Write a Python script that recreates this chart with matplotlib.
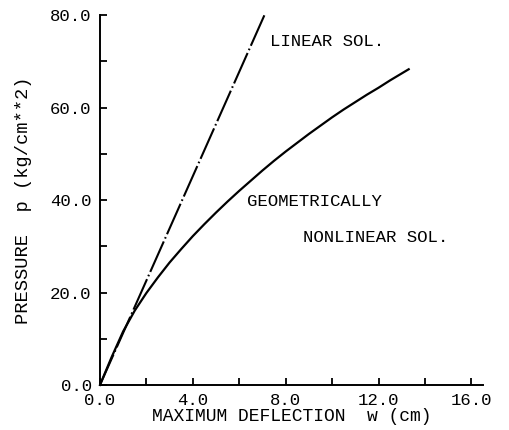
import matplotlib
matplotlib.use("Agg")
import matplotlib.pyplot as plt
from matplotlib.ticker import MultipleLocator, FormatStrFormatter

# linear solution (straight line from origin)
lin_w = [0.0, 7.12]
lin_p = [0.0, 80.4]

# geometrically nonlinear solution
nl_w = [0.0, 0.5, 1.0, 1.5, 2.0, 2.5, 3.0, 3.5, 4.0, 4.5, 5.0, 5.5, 6.0, 6.5,
        7.0, 7.5, 8.0, 8.5, 9.0, 9.5, 10.0, 10.5, 11.0, 11.5, 12.0, 12.5, 13.0, 13.3]
nl_p = [0.0, 6.0, 11.6, 16.1, 19.9, 23.3, 26.5, 29.4, 32.2, 34.8, 37.3, 39.7, 42.0, 44.2,
        46.4, 48.5, 50.5, 52.4, 54.3, 56.1, 57.9, 59.6, 61.2, 62.8, 64.3, 65.9, 67.4, 68.3]

plt.rcParams['font.family'] = ['Liberation Mono', 'DejaVu Sans Mono']
fs = 12.5

fig = plt.figure(figsize=(5.1, 4.3), dpi=100)
ax = fig.add_axes([0.196, 0.1047, 0.751, 0.860])

ax.plot(lin_w, lin_p, color='black', lw=1.5, ls=(0, (16, 1.5, 0.8, 1.5)), clip_on=False)
ax.plot(nl_w, nl_p, color='black', lw=1.6, clip_on=False)

ax.text(7.31, 74.4, "LINEAR SOL.", fontsize=fs, va='center', ha='left')
ax.text(6.32, 39.6, "GEOMETRICALLY", fontsize=fs, va='center', ha='left')
ax.text(8.73, 31.8, "NONLINEAR SOL.", fontsize=fs, va='center', ha='left')

ax.set_xlim(0, 16.5)
ax.set_ylim(0, 80)
ax.xaxis.set_major_locator(MultipleLocator(4))
ax.xaxis.set_minor_locator(MultipleLocator(2))
ax.yaxis.set_major_locator(MultipleLocator(20))
ax.yaxis.set_minor_locator(MultipleLocator(10))
ax.xaxis.set_major_formatter(FormatStrFormatter('%.1f'))
ax.yaxis.set_major_formatter(FormatStrFormatter('%.1f'))
ax.tick_params(which='both', direction='in', length=5, width=1.3, labelsize=fs, pad=6)

for s in ['top', 'right']:
    ax.spines[s].set_visible(False)
for s in ['left', 'bottom']:
    ax.spines[s].set_linewidth(1.4)

ax.set_xlabel("MAXIMUM DEFLECTION  w (cm)", fontsize=13, labelpad=0)
ax.set_ylabel("PRESSURE  p (kg/cm**2)", fontsize=13.5, labelpad=13)

fig.savefig("out.png", dpi=100)
